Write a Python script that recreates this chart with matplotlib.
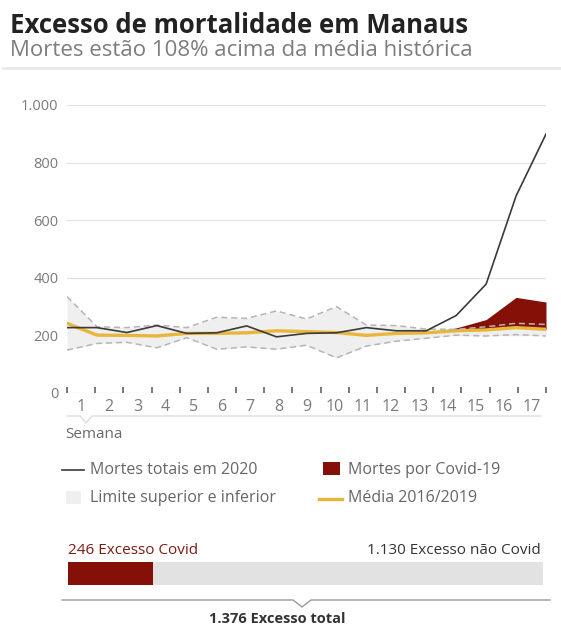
import numpy as np
import matplotlib
matplotlib.use('Agg')
import matplotlib.pyplot as plt
from matplotlib.lines import Line2D
from matplotlib.patches import Rectangle

plt.rcParams['font.family'] = ['Open Sans', 'DejaVu Sans']

weeks = [str(w) for w in range(1, 18)]
total_2020 = [227, 227, 210, 234, 207, 209, 233, 195, 207, 209, 227, 216, 216, 269, 378, 684, 899]
mean_1619 = [242, 201, 200, 198, 207, 207, 209, 216, 213, 210, 200, 207, 209, 216, 219, 227, 221]
upper = [335, 230, 227, 236, 227, 263, 259, 285, 257, 300, 236, 234, 222, 221, 230, 242, 238]
lower = [149, 172, 176, 157, 192, 152, 160, 152, 166, 122, 163, 180, 190, 201, 198, 203, 198]
covid = [0, 0, 0, 0, 0, 0, 0, 0, 0, 0, 0, 0, 0, 10, 36, 105, 95]
excess_covid = 246
excess_other = 1130
excess_total = 1376

RED = '#841007'
YELLOW = '#e8b63a'
BAND = '#efefef'
DASH = '#b5b5b5'
LINE = '#3a3a3a'
GREY_TXT = '#7a7a7a'

W, H = 561, 625
fig = plt.figure(figsize=(W / 100, H / 100), dpi=100)

def fx(x):
    return x / W

def fy(y):
    return 1 - y / H

# titles
fig.text(fx(10), fy(33), 'Excesso de mortalidade em Manaus', fontsize=18.5,
         fontweight='bold', color='#222222', va='baseline')
fig.text(fx(10), fy(56), 'Mortes estão 108% acima da média histórica', fontsize=16,
         color='#7d7d7d', va='baseline')
fig.add_artist(Line2D([fx(3), fx(561)], [fy(68), fy(68)], color='#e6e6e6', lw=1.8))

# main chart
ax = fig.add_axes([fx(67), fy(393), (546 - 67) / W, (393 - 105) / H])
n = len(weeks)
x = np.arange(n) * n / (n - 1)
tot = np.array(total_2020)
mean = np.array(mean_1619)
up = np.array(upper)
lo = np.array(lower)
cov = np.array(covid)

ax.fill_between(x, lo, up, color=BAND, lw=0, zorder=1)
ax.fill_between(x, mean, mean + cov, where=np.r_[cov[1:] > 0, True] | (cov > 0),
                color=RED, lw=0, zorder=2)
ax.plot(x, up, color=DASH, lw=1.1, ls=(0, (4, 2.5)), zorder=4)
ax.plot(x, lo, color=DASH, lw=1.1, ls=(0, (4, 2.5)), zorder=4)
ax.plot(x, mean, color=YELLOW, lw=2.4, zorder=3, solid_joinstyle='round')
ax.plot(x, tot, color=LINE, lw=1.2, zorder=5)

ax.set_xlim(0, n)
ax.set_ylim(0, 1000)
ax.set_yticks([0, 200, 400, 600, 800, 1000])
ax.set_yticklabels(['0', '200', '400', '600', '800', '1.000'])
for v in [0, 200, 400, 600, 800, 1000]:
    ax.axhline(v, color='#e2e2e2', lw=0.9, zorder=0)
ax.set_xticks(np.arange(n + 1))
ax.set_xticklabels([])
ax.set_xticks(np.arange(n) + 0.5, minor=True)
ax.set_xticklabels(weeks, minor=True)
ax.tick_params(axis='x', which='major', direction='in', length=4.5, width=1.1,
               color='#555555')
ax.tick_params(axis='x', which='minor', length=0, pad=4, labelsize=11.5,
               labelcolor=GREY_TXT)
ax.tick_params(axis='y', length=0, pad=6, labelsize=10.5, labelcolor=GREY_TXT)
for s in ax.spines.values():
    s.set_visible(False)
ax.set_facecolor('none')

# axis footer with notch
fig.add_artist(Line2D([fx(67), fx(80), fx(86), fx(92), fx(541)],
                      [fy(416), fy(416), fy(423), fy(416), fy(416)],
                      color='#dddddd', lw=1))
fig.text(fx(65), fy(434), 'Semana', fontsize=11, color='#6a6a6a', va='center')

# legend
fig.add_artist(Line2D([fx(62), fx(84)], [fy(470), fy(470)], color=LINE, lw=1.2))
fig.text(fx(90), fy(470), 'Mortes totais em 2020', fontsize=11.5, color='#666666', va='center')
fig.add_artist(Rectangle((fx(323), fy(475)), 17 / W, 13 / H, color=RED, lw=0))
fig.text(fx(348), fy(470), 'Mortes por Covid-19', fontsize=11.5, color='#666666', va='center')
fig.add_artist(Rectangle((fx(66), fy(504)), 15 / W, 13 / H, color=BAND, lw=0))
fig.text(fx(90), fy(498), 'Limite superior e inferior', fontsize=11.5, color='#666666', va='center')
fig.add_artist(Line2D([fx(319), fx(342)], [fy(499), fy(499)], color=YELLOW, lw=2.4))
fig.text(fx(348), fy(498), 'Média 2016/2019', fontsize=11.5, color='#666666', va='center')

# excess bar
bx = fig.add_axes([fx(68), fy(585), (543 - 68) / W, 23 / H])
bx.barh([0], [excess_covid], color=RED, height=1)
bx.barh([0], [excess_other], left=[excess_covid], color='#e2e2e2', height=1)
bx.set_xlim(0, excess_total)
bx.set_ylim(-0.5, 0.5)
bx.axis('off')
fig.text(fx(68), fy(554), f'{excess_covid} Excesso Covid', fontsize=11,
         color='#7a1a12', va='baseline')
fig.text(fx(541), fy(554), '{:,} Excesso não Covid'.format(excess_other).replace(',', '.'),
         fontsize=11, color='#333333', va='baseline', ha='right')
fig.add_artist(Line2D([fx(62), fx(293), fx(302), fx(311), fx(550)],
                      [fy(600), fy(600), fy(607), fy(600), fy(600)],
                      color='#999999', lw=1))
fig.text(fx(277), fy(623), '{:,} Excesso total'.format(excess_total).replace(',', '.'),
         fontsize=10.5, fontweight='bold', color='#333333', va='baseline', ha='center')

fig.savefig('out.png', dpi=100, facecolor='white')
